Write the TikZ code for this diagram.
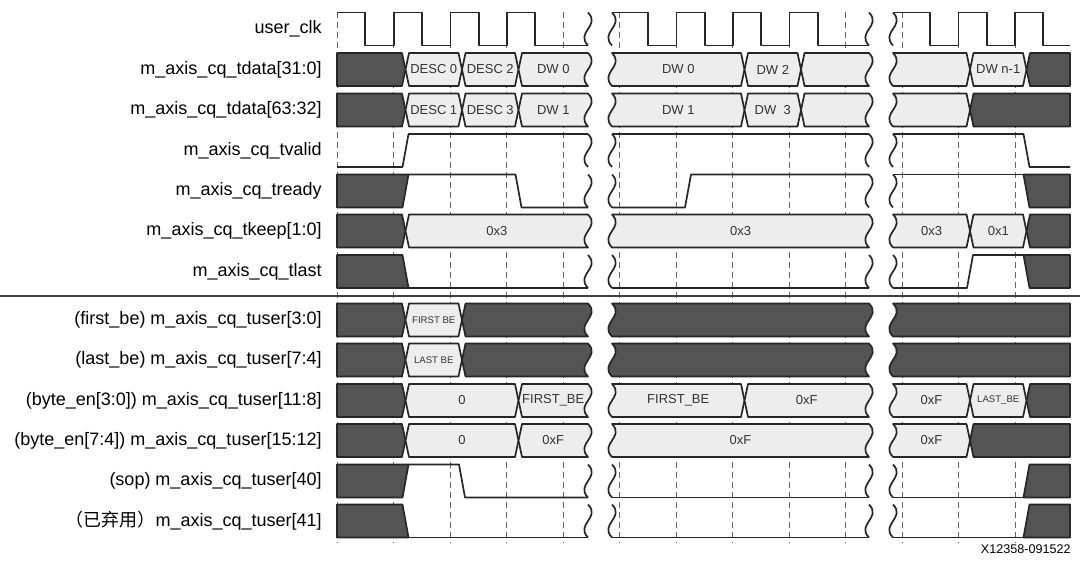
\documentclass[tikz,border=0pt]{standalone}
\usepackage{fontspec}
\setmainfont{Liberation Sans}
\newfontfamily\cjk{Noto Sans CJK SC}
\newcount\segno
% bus edges: x, row centre
\newcommand\edgeLF[2]{(#1,{#2+16.5}) -- (#1,{#2-16.5})}
\newcommand\edgeLX[2]{({#1+3.5},{#2+16.5}) -- (#1,#2) -- ({#1+3.5},{#2-16.5})}
\newcommand\edgeLS[2]{(#1,{#2+16.5}) .. controls ({#1-13},{#2+3}) and ({#1+13},{#2-3}) .. (#1,{#2-16.5})}
\newcommand\edgeRF[2]{(#1,{#2-16.5}) -- (#1,{#2+16.5})}
\newcommand\edgeRX[2]{({#1-3.5},{#2-16.5}) -- (#1,#2) -- ({#1-3.5},{#2+16.5})}
\newcommand\edgeRS[2]{(#1,{#2-16.5}) .. controls ({#1+13},{#2-3}) and ({#1-13},{#2+3}) .. (#1,{#2+16.5})}
\newcommand\seg[7]{%
  \global\advance\segno by 1
  \filldraw[bus,#6] #1{#2}{#5} -- #3{#4}{#5} -- cycle;
  \if\relax\detokenize{#7}\relax\else
  \node[val] (seg\the\segno) at ({(#2+#4)/2},#5) {#7};\fi}
\newcommand\smalltxt{\fontsize{4.8}{5}\selectfont}
\begin{document}
\begin{tikzpicture}[x=0.5pt,y=-0.5pt,
  bus/.style={draw=black!85,line width=0.85pt,line join=round},
  sig/.style={draw=black!85,line width=0.85pt,line join=round},
  xbox/.style={fill=black!67},
  vbox/.style={fill=black!7},
  clkline/.style={draw=black!60,line width=0.5pt,dash pattern=on 3pt off 2pt},
  lbl/.style={anchor=east,font=\fontsize{9}{11}\selectfont,inner sep=0pt},
  val/.style={font=\fontsize{6.5}{8}\selectfont,text=black!80,inner sep=0pt}]
\useasboundingbox (0,0) rectangle (1080,562);
\foreach \k in {0,...,12}
  \draw[clkline] ({337+56.5*\k},12) -- ({337+56.5*\k},543);
\draw[black!75,line width=0.8pt] (0,296) -- (1080,296);
% labels
\foreach \y/\txt [count=\i] in {29/user\_clk,
  69.5/m\_axis\_cq\_tdata[31:0], 110/m\_axis\_cq\_tdata[63:32],
  150.5/m\_axis\_cq\_tvalid, 191/m\_axis\_cq\_tready,
  231/m\_axis\_cq\_tkeep[1:0], 271.5/m\_axis\_cq\_tlast,
  320/(first\_be) m\_axis\_cq\_tuser[3:0], 360/(last\_be) m\_axis\_cq\_tuser[7:4],
  400.5/(byte\_en[3:0]) m\_axis\_cq\_tuser[11:8],
  440.5/(byte\_en[7:4]) m\_axis\_cq\_tuser[15:12],
  481/(sop) m\_axis\_cq\_tuser[40], 521/{{\cjk （已弃用）}m\_axis\_cq\_tuser[41]}}
  \node[lbl] (lbl\i) at (322,\y) {\txt};
\node[anchor=east,font=\fontsize{6.3}{7}\selectfont,inner sep=0pt] (fig) at (1071,549) {X12358-091522};
% breaks of single bit rows
\foreach \y in {29,150.5,191,271.5,481,521}
  \foreach \x in {588,612,869,893}
    \draw[sig] \edgeRS{\x}{\y};
% user_clk
\draw[sig] (337,12.5) -- (365.25,12.5) -- (365.25,45.5) -- (394,45.5) -- (394,12.5) -- (422.25,12.5) -- (422.25,45.5) -- (450.5,45.5) -- (450.5,12.5) -- (478.75,12.5) -- (478.75,45.5) -- (507,45.5) -- (507,12.5) -- (535.25,12.5) -- (535.25,45.5) -- (588,45.5);
\draw[sig] (612,12.5) -- (647.75,12.5) -- (647.75,45.5) -- (676.5,45.5) -- (676.5,12.5) -- (704.75,12.5) -- (704.75,45.5) -- (733,45.5) -- (733,12.5) -- (761.25,12.5) -- (761.25,45.5) -- (789.5,45.5) -- (789.5,12.5) -- (817.75,12.5) -- (817.75,45.5) -- (869,45.5);
\draw[sig] (893,12.5) -- (930.25,12.5) -- (930.25,45.5) -- (958.5,45.5) -- (958.5,12.5) -- (986.75,12.5) -- (986.75,45.5) -- (1015,45.5) -- (1015,12.5) -- (1043.25,12.5) -- (1043.25,45.5) -- (1070,45.5);
% tdata[31:0]
\seg{\edgeLF}{337}{\edgeRX}{405.5}{69.5}{xbox}{}
\seg{\edgeLX}{405.5}{\edgeRX}{462}{69.5}{vbox}{DESC 0}
\seg{\edgeLX}{462}{\edgeRX}{518.5}{69.5}{vbox}{DESC 2}
\seg{\edgeLX}{518.5}{\edgeRS}{588}{69.5}{vbox}{DW 0}
\seg{\edgeLS}{612}{\edgeRX}{744.5}{69.5}{vbox}{DW 0}
\seg{\edgeLX}{744.5}{\edgeRX}{801}{69.5}{vbox}{DW 2}
\seg{\edgeLX}{801}{\edgeRS}{869}{69.5}{vbox}{}
\seg{\edgeLS}{893}{\edgeRX}{970}{69.5}{vbox}{}
\seg{\edgeLX}{970}{\edgeRX}{1026.5}{69.5}{vbox}{DW n-1}
\seg{\edgeLX}{1026.5}{\edgeRF}{1070}{69.5}{xbox}{}
% tdata[63:32]
\seg{\edgeLF}{337}{\edgeRX}{405.5}{110}{xbox}{}
\seg{\edgeLX}{405.5}{\edgeRX}{462}{110}{vbox}{DESC 1}
\seg{\edgeLX}{462}{\edgeRX}{518.5}{110}{vbox}{DESC 3}
\seg{\edgeLX}{518.5}{\edgeRS}{588}{110}{vbox}{DW 1}
\seg{\edgeLS}{612}{\edgeRX}{744.5}{110}{vbox}{DW 1}
\seg{\edgeLX}{744.5}{\edgeRX}{801}{110}{vbox}{DW\ \ 3}
\seg{\edgeLX}{801}{\edgeRS}{869}{110}{vbox}{}
\seg{\edgeLS}{893}{\edgeRX}{970}{110}{vbox}{}
\seg{\edgeLX}{970}{\edgeRF}{1070}{110}{xbox}{}
% tvalid
\draw[sig] (337,167) -- (402.5,167) -- (408.5,134) -- (588,134);
\draw[sig] (612,134) -- (869,134);
\draw[sig] (893,134) -- (1023.5,134) -- (1029.5,167) -- (1070,167);
% tready
\filldraw[bus,xbox] (337,174.5) -- (408.5,174.5) -- (402.5,207.5) -- (337,207.5) -- cycle;
\draw[sig] (408.5,174.5) -- (515.5,174.5) -- (521.5,207.5) -- (588,207.5);
\draw[sig] (612,207.5) -- (685,207.5) -- (691,174.5) -- (869,174.5);
\draw[sig] (893,174.5) -- (1023.5,174.5);
\filldraw[bus,xbox] (1023.5,174.5) -- (1070,174.5) -- (1070,207.5) -- (1029.5,207.5) -- cycle;
% tkeep
\seg{\edgeLF}{337}{\edgeRX}{405.5}{231}{xbox}{}
\seg{\edgeLX}{405.5}{\edgeRS}{588}{231}{vbox}{0x3}
\seg{\edgeLS}{612}{\edgeRS}{869}{231}{vbox}{0x3}
\seg{\edgeLS}{893}{\edgeRX}{970}{231}{vbox}{0x3}
\seg{\edgeLX}{970}{\edgeRX}{1026.5}{231}{vbox}{0x1}
\seg{\edgeLX}{1026.5}{\edgeRF}{1070}{231}{xbox}{}
% tlast
\filldraw[bus,xbox] (337,255) -- (402.5,255) -- (408.5,288) -- (337,288) -- cycle;
\draw[sig] (408.5,288) -- (588,288);
\draw[sig] (612,288) -- (869,288);
\draw[sig] (893,288) -- (967,288) -- (973,255) -- (1023.5,255);
\filldraw[bus,xbox] (1023.5,255) -- (1070,255) -- (1070,288) -- (1029.5,288) -- cycle;
% tuser[3:0], tuser[7:4]
\foreach \y/\be in {320/FIRST BE,360/LAST BE}{
  \seg{\edgeLF}{337}{\edgeRX}{405.5}{\y}{xbox}{}
  \seg{\edgeLX}{405.5}{\edgeRX}{462}{\y}{vbox}{\smalltxt\be}
  \seg{\edgeLX}{462}{\edgeRS}{588}{\y}{xbox}{}
  \seg{\edgeLS}{612}{\edgeRS}{869}{\y}{xbox}{}
  \seg{\edgeLS}{893}{\edgeRF}{1070}{\y}{xbox}{}
}
% tuser[11:8]
\seg{\edgeLF}{337}{\edgeRX}{405.5}{400.5}{xbox}{}
\seg{\edgeLX}{405.5}{\edgeRX}{518.5}{400.5}{vbox}{0}
\seg{\edgeLX}{518.5}{\edgeRS}{588}{400.5}{vbox}{FIRST\_BE}
\seg{\edgeLS}{612}{\edgeRX}{744.5}{400.5}{vbox}{FIRST\_BE}
\seg{\edgeLX}{744.5}{\edgeRS}{869}{400.5}{vbox}{0xF}
\seg{\edgeLS}{893}{\edgeRX}{970}{400.5}{vbox}{0xF}
\seg{\edgeLX}{970}{\edgeRX}{1026.5}{400.5}{vbox}{\smalltxt LAST\_BE}
\seg{\edgeLX}{1026.5}{\edgeRF}{1070}{400.5}{xbox}{}
% tuser[15:12]
\seg{\edgeLF}{337}{\edgeRX}{405.5}{440.5}{xbox}{}
\seg{\edgeLX}{405.5}{\edgeRX}{518.5}{440.5}{vbox}{0}
\seg{\edgeLX}{518.5}{\edgeRS}{588}{440.5}{vbox}{0xF}
\seg{\edgeLS}{612}{\edgeRS}{869}{440.5}{vbox}{0xF}
\seg{\edgeLS}{893}{\edgeRX}{970}{440.5}{vbox}{0xF}
\seg{\edgeLX}{970}{\edgeRF}{1070}{440.5}{xbox}{}
% tuser[40]
\filldraw[bus,xbox] (337,464.5) -- (408.5,464.5) -- (402.5,497.5) -- (337,497.5) -- cycle;
\draw[sig] (408.5,464.5) -- (459,464.5) -- (465,497.5) -- (588,497.5);
\draw[sig] (612,497.5) -- (869,497.5);
\draw[sig] (893,497.5) -- (1023.5,497.5);
\filldraw[bus,xbox] (1029.5,464.5) -- (1070,464.5) -- (1070,497.5) -- (1023.5,497.5) -- cycle;
% tuser[41]
\filldraw[bus,xbox] (337,504.5) -- (402.5,504.5) -- (408.5,537.5) -- (337,537.5) -- cycle;
\draw[sig] (408.5,537.5) -- (588,537.5);
\draw[sig] (612,537.5) -- (869,537.5);
\draw[sig] (893,537.5) -- (1023.5,537.5);
\filldraw[bus,xbox] (1029.5,504.5) -- (1070,504.5) -- (1070,537.5) -- (1023.5,537.5) -- cycle;
\end{tikzpicture}
\end{document}
